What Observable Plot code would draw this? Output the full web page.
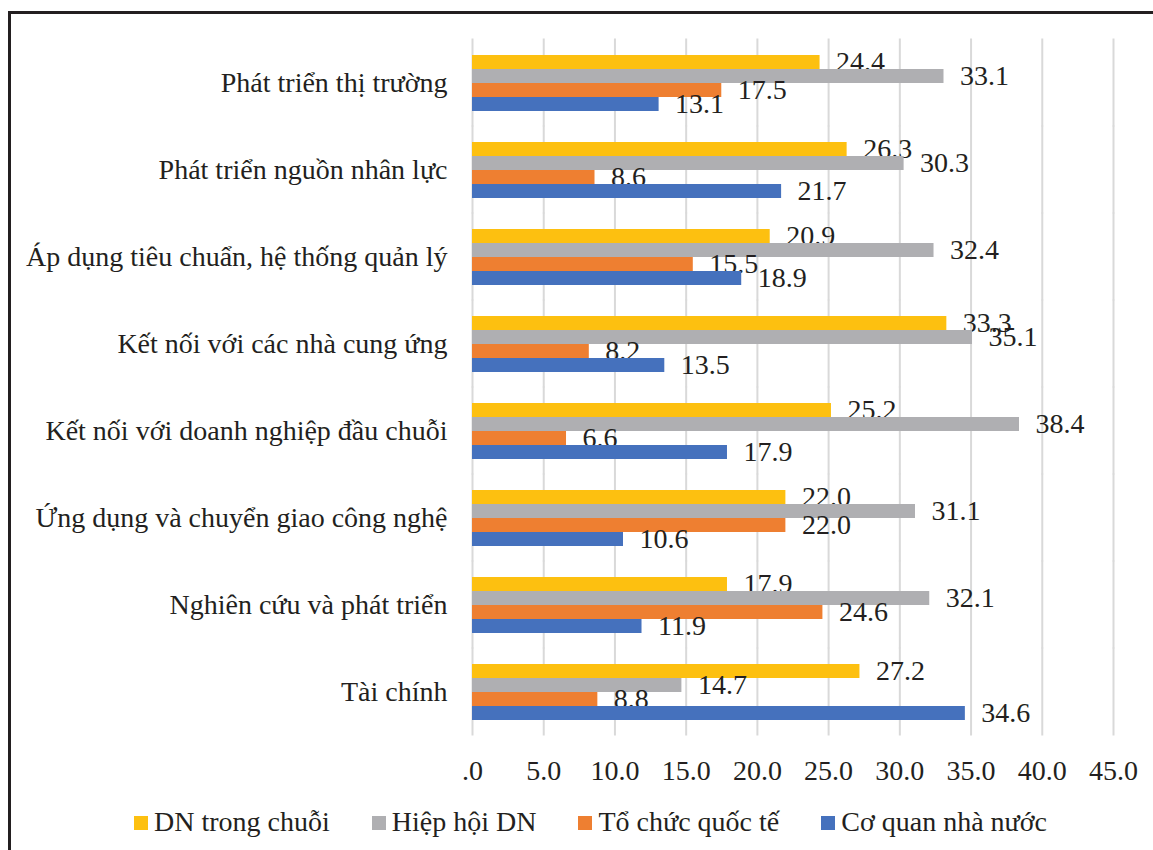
<!DOCTYPE html>
<html>
<head>
<meta charset="utf-8">
<script src="https://cdn.jsdelivr.net/npm/d3@7"></script>
<script src="https://cdn.jsdelivr.net/npm/@observablehq/plot@0.6"></script>
<style>
  html, body { margin: 0; padding: 0; background: #fff; }
  #wrap { position: relative; width: 1153px; height: 850px; overflow: hidden; font-family: "Liberation Serif", "Times New Roman", serif; color: #231f20; }
  #border { position: absolute; left: 8px; top: 11px; width: 1300px; height: 1000px; border-left: 3px solid #231f20; border-top: 3px solid #231f20; }
  #chart { position: absolute; left: 0; top: 0; }
  #legend { position: absolute; left: 9px; top: 807px; width: 1163px; display: flex; justify-content: center; gap: 42px; font-size: 28px; line-height: 30px; }
  .item { display: flex; align-items: center; white-space: nowrap; }
  .sw { display: inline-block; width: 14px; height: 14px; margin-right: 6px; position: relative; top: 1px; }
</style>
</head>
<body>
<div id="wrap">
  <div id="border"></div>
  <div id="chart"></div>
  <div id="legend"></div>
</div>
<script>
const categories = [
  "Phát triển thị trường",
  "Phát triển nguồn nhân lực",
  "Áp dụng tiêu chuẩn, hệ thống quản lý",
  "Kết nối với các nhà cung ứng",
  "Kết nối với doanh nghiệp đầu chuỗi",
  "Ứng dụng và chuyển giao công nghệ",
  "Nghiên cứu và phát triển",
  "Tài chính"
];
const seriesNames = ["DN trong chuỗi", "Hiệp hội DN", "Tổ chức quốc tế", "Cơ quan nhà nước"];
const seriesColors = ["#FDC010", "#AFAFB2", "#EE7F31", "#4571BD"];
const dnTrongChuoi = [24.4, 26.3, 20.9, 33.3, 25.2, 22.0, 17.9, 27.2];
const hiepHoiDN    = [33.1, 30.3, 32.4, 35.1, 38.4, 31.1, 32.1, 14.7];
const toChucQuocTe = [17.5, 8.6, 15.5, 8.2, 6.6, 22.0, 24.6, 8.8];
const coQuanNhaNuoc = [13.1, 21.7, 18.9, 13.5, 17.9, 10.6, 11.9, 34.6];
const tickValues = [0, 5, 10, 15, 20, 25, 30, 35, 40, 45];
const tickLabels = [".0", "5.0", "10.0", "15.0", "20.0", "25.0", "30.0", "35.0", "40.0", "45.0"];

const seriesValues = [dnTrongChuoi, hiepHoiDN, toChucQuocTe, coQuanNhaNuoc];
const rows = [];
seriesNames.forEach((s, si) => {
  categories.forEach((c, ci) => rows.push({category: c, series: s, value: seriesValues[si][ci]}));
});

const marks = [
  Plot.ruleX(tickValues, {x: d => d, stroke: "#d9d9d9", strokeWidth: 2, insetTop: -14.5, insetBottom: -14.5})
];
seriesNames.forEach(s => {
  const sub = rows.filter(r => r.series === s);
  marks.push(Plot.barX(sub, {fy: "category", y: "series", x: "value", fill: "series"}));
  marks.push(Plot.text(sub, {fy: "category", y: "series", x: "value", text: d => d.value.toFixed(1),
    textAnchor: "start", dx: 16, fill: "#231f20", fontSize: 28}));
});

const chart = Plot.plot({
  width: 1153,
  height: 800,
  marginLeft: 472,
  marginRight: 40,
  marginTop: 37,
  marginBottom: 63,
  style: {fontFamily: "'Liberation Serif', 'Times New Roman', serif", fontSize: "28px", color: "#231f20", background: "transparent"},
  x: {domain: [0, 45], ticks: tickValues, tickFormat: d => tickLabels[tickValues.indexOf(d)], tickSize: 0, tickPadding: 39, label: null},
  y: {domain: seriesNames, axis: null, padding: 0},
  fy: {domain: categories, paddingInner: 0.32, paddingOuter: 0.16, axis: "left", tickSize: 0, tickPadding: 25, label: null},
  color: {domain: seriesNames, range: seriesColors},
  marks
});
document.getElementById("chart").appendChild(chart);

const legend = document.getElementById("legend");
seriesNames.forEach((s, i) => {
  const item = document.createElement("div");
  item.className = "item";
  const sw = document.createElement("span");
  sw.className = "sw";
  sw.style.background = seriesColors[i];
  const t = document.createElement("span");
  t.textContent = s;
  item.appendChild(sw);
  item.appendChild(t);
  legend.appendChild(item);
});
</script>
</body>
</html>
